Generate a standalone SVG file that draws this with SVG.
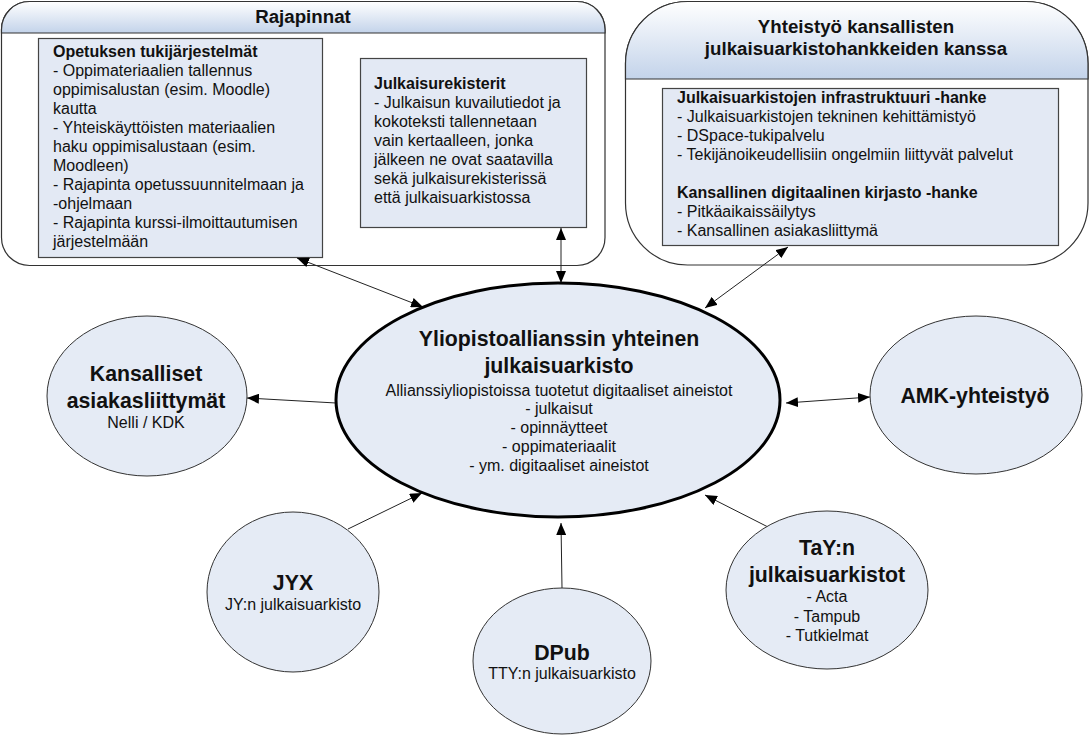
<svg xmlns="http://www.w3.org/2000/svg" width="1090" height="736" viewBox="0 0 1090 736">
<defs>
<linearGradient id="hdr" x1="0" y1="0" x2="0" y2="1">
<stop offset="0" stop-color="#ffffff"/>
<stop offset="1" stop-color="#c3d3ea"/>
</linearGradient>
<marker id="ah" viewBox="0 0 12 10" refX="12" refY="5" markerWidth="12" markerHeight="10" markerUnits="userSpaceOnUse" orient="auto-start-reverse">
<path d="M0,0 L12,5 L0,10 Z" fill="#000"/>
</marker>
<style>
text{font-family:"Liberation Sans",Arial,sans-serif;fill:#111;}
.t{font-size:16px;}
.b{font-weight:bold;}
.h{font-size:18.7px;font-weight:bold;}
.big{font-size:21.3px;font-weight:bold;}
.c{text-anchor:middle;}
.box{fill:#e3e9f4;stroke:#444;stroke-width:1.2;}
.cont{fill:#fff;stroke:#333;stroke-width:1.2;}
.ell{fill:#e5ebf5;stroke:#333;stroke-width:1;}
.conn{stroke:#222;stroke-width:1;fill:none;}
</style>
</defs>

<g id="rajapinnat">
<rect class="cont" x="1.5" y="1.5" width="603.5" height="264" rx="28" ry="28"/>
<path d="M1.5,33 V29.5 A28,28 0 0 1 29.5,1.5 H577 A28,28 0 0 1 605,29.5 V33 Z" fill="url(#hdr)" stroke="#333" stroke-width="1.2"/>
<text class="h c" x="303" y="23">Rajapinnat</text>
<g id="opetuksen">
<rect class="box" x="38.5" y="38.5" width="284" height="219"/>
<text class="t" x="53" y="57"><tspan class="b">Opetuksen tukijärjestelmät</tspan><tspan x="53" dy="19">- Oppimateriaalien tallennus</tspan><tspan x="53" dy="19">oppimisalustan (esim. Moodle)</tspan><tspan x="53" dy="19">kautta</tspan><tspan x="53" dy="19">- Yhteiskäyttöisten materiaalien</tspan><tspan x="53" dy="19">haku oppimisalustaan (esim.</tspan><tspan x="53" dy="19">Moodleen)</tspan><tspan x="53" dy="19">- Rajapinta opetussuunnitelmaan ja</tspan><tspan x="53" dy="19">-ohjelmaan</tspan><tspan x="53" dy="19">- Rajapinta kurssi-ilmoittautumisen</tspan><tspan x="53" dy="19">järjestelmään</tspan></text>
</g>
<g id="julkaisurekisterit">
<rect class="box" x="360.5" y="58.5" width="226" height="169"/>
<text class="t" x="374" y="89"><tspan class="b">Julkaisurekisterit</tspan><tspan x="374" dy="19">- Julkaisun kuvailutiedot ja</tspan><tspan x="374" dy="19">kokoteksti tallennetaan</tspan><tspan x="374" dy="19">vain kertaalleen, jonka</tspan><tspan x="374" dy="19">jälkeen ne ovat saatavilla</tspan><tspan x="374" dy="19">sekä julkaisurekisterissä</tspan><tspan x="374" dy="19">että julkaisuarkistossa</tspan></text>
</g>
</g>

<g id="yhteistyo">
<rect class="cont" x="625.5" y="1.5" width="462.5" height="263.5" rx="62" ry="62"/>
<path d="M625.5,79 V63.5 A62,62 0 0 1 687.5,1.5 H1026 A62,62 0 0 1 1088,63.5 V79 Z" fill="url(#hdr)" stroke="#333" stroke-width="1.2"/>
<text class="h c" x="856" y="33">Yhteistyö kansallisten</text>
<text class="h c" x="856" y="55">julkaisuarkistohankkeiden kanssa</text>
<g id="hankkeet">
<rect class="box" x="662.5" y="88.5" width="396" height="157"/>
<text class="t" x="677" y="103"><tspan class="b">Julkaisuarkistojen infrastruktuuri -hanke</tspan><tspan x="677" dy="19">- Julkaisuarkistojen tekninen kehittämistyö</tspan><tspan x="677" dy="19">- DSpace-tukipalvelu</tspan><tspan x="677" dy="19">- Tekijänoikeudellisiin ongelmiin liittyvät palvelut</tspan><tspan x="677" dy="38" class="b">Kansallinen digitaalinen kirjasto -hanke</tspan><tspan x="677" dy="19">- Pitkäaikaissäilytys</tspan><tspan x="677" dy="19">- Kansallinen asiakasliittymä</tspan></text>
</g>
</g>

<g id="connectors">
<path class="conn" d="M297,258 L423,307" marker-start="url(#ah)" marker-end="url(#ah)"/>
<path class="conn" d="M561,228 L561,283" marker-start="url(#ah)" marker-end="url(#ah)"/>
<path class="conn" d="M788,247 L705,308" marker-start="url(#ah)" marker-end="url(#ah)"/>
<path class="conn" d="M336,403 L247,398" marker-end="url(#ah)"/>
<path class="conn" d="M786,403 L870,397" marker-start="url(#ah)" marker-end="url(#ah)"/>
<path class="conn" d="M348,529 L422,493" marker-end="url(#ah)"/>
<path class="conn" d="M562,588 L561,523" marker-end="url(#ah)"/>
<path class="conn" d="M768,527 L705,495" marker-end="url(#ah)"/>
</g>

<g id="center">
<ellipse cx="558" cy="400" rx="222" ry="117" fill="#e5ebf5" stroke="#000" stroke-width="3"/>
<text class="big c" x="559" y="346">Yliopistoallianssin yhteinen</text>
<text class="big c" x="559" y="373">julkaisuarkisto</text>
<text class="t c" x="559" y="396">Allianssiyliopistoissa tuotetut digitaaliset aineistot</text>
<text class="t c" x="559" y="414">- julkaisut</text>
<text class="t c" x="559" y="433">- opinnäytteet</text>
<text class="t c" x="559" y="452">- oppimateriaalit</text>
<text class="t c" x="559" y="471">- ym. digitaaliset aineistot</text>
</g>

<g id="kansalliset">
<ellipse class="ell" cx="147" cy="396" rx="100" ry="80"/>
<text class="big c" x="146" y="381">Kansalliset</text>
<text class="big c" x="146" y="408">asiakasliittymät</text>
<text class="t c" x="146" y="428">Nelli / KDK</text>
</g>

<g id="amk">
<ellipse class="ell" cx="976" cy="395" rx="106" ry="79"/>
<text class="big c" x="975" y="403">AMK-yhteistyö</text>
</g>

<g id="jyx">
<ellipse class="ell" cx="293" cy="592" rx="86" ry="80"/>
<text class="big c" x="293" y="590">JYX</text>
<text class="t c" x="293" y="610">JY:n julkaisuarkisto</text>
</g>

<g id="dpub">
<ellipse class="ell" cx="562" cy="661" rx="89" ry="73"/>
<text class="big c" x="562" y="660">DPub</text>
<text class="t c" x="562" y="679">TTY:n julkaisuarkisto</text>
</g>

<g id="tay">
<ellipse class="ell" cx="827" cy="590" rx="101" ry="79"/>
<text class="big c" x="827" y="555">TaY:n</text>
<text class="big c" x="827" y="582">julkaisuarkistot</text>
<text class="t c" x="827" y="602">- Acta</text>
<text class="t c" x="827" y="622">- Tampub</text>
<text class="t c" x="827" y="641">- Tutkielmat</text>
</g>
</svg>
